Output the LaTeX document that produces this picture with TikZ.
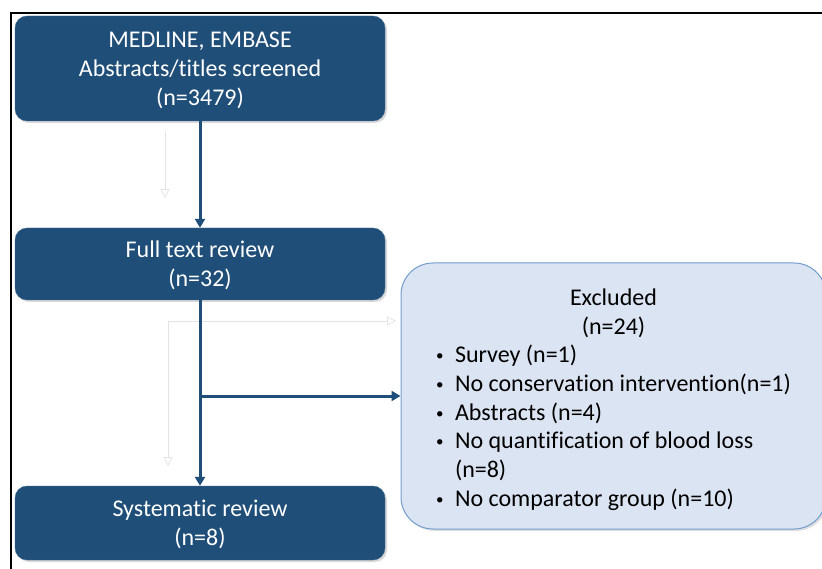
\documentclass[tikz,border=0pt]{standalone}
\usepackage{fontspec}
\setmainfont[Ligatures=NoCommon]{Carlito}
\usetikzlibrary{positioning,shadows,arrows.meta}
\definecolor{azul}{RGB}{31,78,121}
\definecolor{celeste}{RGB}{219,228,242}
\definecolor{borde}{RGB}{112,156,206}
\definecolor{grisclaro}{RGB}{228,228,228}
\newcommand{\vin}{\makebox[20pt][l]{\hspace{1pt}\raisebox{2pt}{\fontsize{15}{15}\selectfont\textbullet}}}
\newcommand{\textocaja}[1]{\raisebox{-2.5pt}[\height][\depth]{\begin{tabular}{@{}c@{}}#1\end{tabular}}}
\begin{document}
\begin{tikzpicture}[x=1pt,y=-1pt,
    caja/.style={fill=azul,draw=azul!85!white,text=white,rounded corners=12pt,
        minimum width=370pt,inner sep=0pt,
        font=\fontsize{24}{29}\selectfont,
        drop shadow={opacity=0.3,shadow xshift=2pt,shadow yshift=-2pt}},
    flecha/.style={azul,line width=3pt,-{Triangle[length=9pt,width=10pt]}},
    fantasma/.style={grisclaro,line width=0.8pt,-{Triangle[open,length=9pt,width=9pt]}}]
\useasboundingbox (0,0) rectangle (822,569);
    %Marco
    \draw[line width=2pt] (11,570) -- (11,13) -- (823,13);

    %Flechas fantasma
    \coordinate (g1) at (165,131);
    \coordinate (g2) at (165,198);
    \coordinate (g3) at (168,321);
    \coordinate (g4) at (396,321);
    \coordinate (g5) at (168,466);
    \draw[fantasma] (g1) -- (g2);
    \draw[fantasma] (g3) -- (g4);
    \draw[fantasma] (g3) -- (g5);

    %Cajas
    \node[caja,minimum height=105pt] (medline) at (200,68.5) {\textocaja{MEDLINE, EMBASE\\Abstracts/titles screened\\(n=3479)}};
    \node[caja,minimum height=72pt] (fulltext) at (200,264) {\textocaja{Full text review\\(n=32)}};
    \node[caja,minimum height=74pt] (sistem) at (200,523) {\textocaja{Systematic review\\(n=8)}};
    \node[fill=celeste,draw=borde,line width=1pt,rounded corners=32pt,
        minimum width=425pt,minimum height=266pt,inner sep=0pt,
        drop shadow={opacity=0.25,shadow xshift=2pt,shadow yshift=-2pt}] (excl) at (613.5,396)
        {\raisebox{-3.5pt}[\height][\depth]{\parbox{357pt}{\fontsize{24}{28.7}\selectfont
        \centering Excluded\\(n=24)\par
        \raggedright
        \vin Survey (n=1)\\
        \vin No conservation intervention(n=1)\\
        \vin Abstracts (n=4)\\
        \vin No quantification of blood loss\\
        \hspace*{20pt}(n=8)\\
        \vin No comparator group (n=10)\par}}};

    %Conectores
    \coordinate (rama) at (fulltext.south |- excl.west);
    \draw[flecha] (medline) -- (fulltext);
    \draw[flecha] (fulltext) -- (sistem);
    \draw[flecha] (rama) -- (excl.west);
\end{tikzpicture}
\end{document}
